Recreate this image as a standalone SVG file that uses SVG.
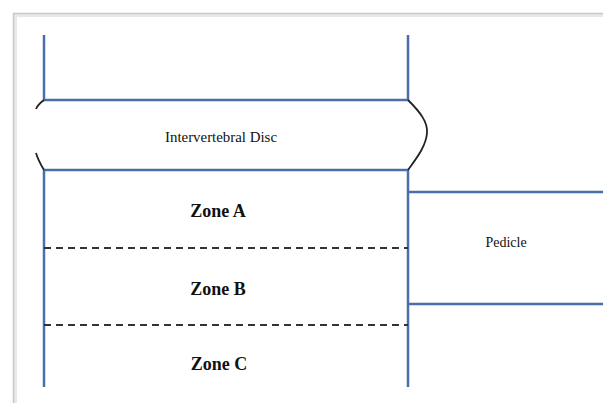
<svg xmlns="http://www.w3.org/2000/svg" width="603" height="403" viewBox="0 0 603 403">
<style>
.ln{stroke:#4a6ea9;stroke-width:2.5;fill:none}
.dash{stroke:#333;stroke-width:2;stroke-dasharray:7,5;fill:none}
.cv{stroke:#222;stroke-width:1.8;fill:none}
.t{font-family:"Liberation Serif",serif;fill:#111}
.z{font-family:"Liberation Serif",serif;font-weight:bold;font-size:18px;fill:#111;text-anchor:middle}
</style>
<rect x="0" y="0" width="603" height="403" fill="#fff"/>
<g id="frame">
<path d="M15 405 V15 H605" stroke="#e8e8e8" stroke-width="4" fill="none"/>
<path d="M13.5 405 V13.5 H605" stroke="#c8c8c8" stroke-width="1.5" fill="none"/>
</g>
<g id="connectors">
<line class="ln" x1="44" y1="35" x2="44" y2="100"/>
<line class="ln" x1="408" y1="35" x2="408" y2="100"/>
<line class="ln" x1="43" y1="100" x2="409" y2="100"/>
<line class="ln" x1="43" y1="170" x2="409" y2="170"/>
<line class="ln" x1="44" y1="170" x2="44" y2="387"/>
<line class="ln" x1="408" y1="170" x2="408" y2="387"/>
<line class="ln" x1="408" y1="192" x2="603" y2="192"/>
<line class="ln" x1="408" y1="304" x2="603" y2="304"/>
<line class="dash" x1="44" y1="248" x2="408" y2="248"/>
<line class="dash" x1="44" y1="325" x2="408" y2="325"/>
</g>
<g id="disc">
<path class="cv" d="M408 100 C420 112 428 122 427 133 C426 147 415 160 408 170"/>
<path class="cv" d="M44 100 C40 103 37 106 36 109"/>
<path class="cv" d="M36 153 C38 160 41 165 44 170"/>
<text class="t" x="221" y="142" font-size="14" text-anchor="middle" textLength="112" lengthAdjust="spacingAndGlyphs">Intervertebral Disc</text>
</g>
<g id="zoneA"><text class="z" x="218" y="217">Zone A</text></g>
<g id="zoneB"><text class="z" x="218" y="295">Zone B</text></g>
<g id="zoneC"><text class="z" x="219" y="370">Zone C</text></g>
<g id="pedicle"><text class="t" x="506" y="247" font-size="14" text-anchor="middle">Pedicle</text></g>
</svg>
